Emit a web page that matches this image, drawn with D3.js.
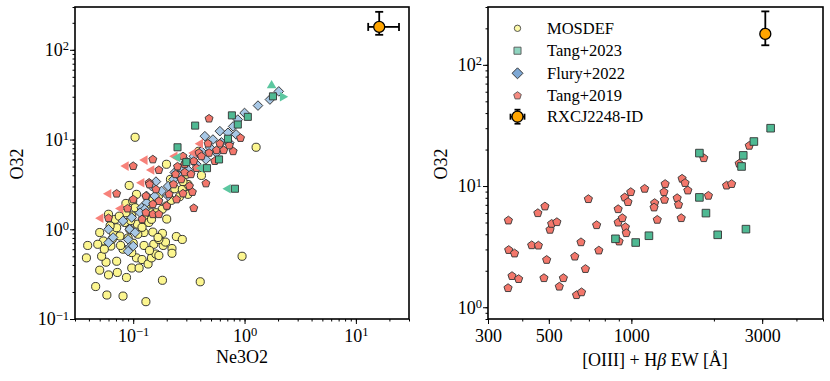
<!DOCTYPE html>
<html>
<head>
<meta charset="utf-8">
<script src="https://cdn.jsdelivr.net/npm/d3@7"></script>
<style>
  body { margin: 0; background: #fff; }
  svg text { font-family: "Liberation Serif", "DejaVu Serif", "Times New Roman", serif !important; fill: #000; }
</style>
</head>
<body>
<svg id="chart" width="830" height="381" font-family="Liberation Serif, DejaVu Serif, serif"></svg>
<script>
// ---- data: [Ne3O2, O32] ----
var mosdef = [[0.104,10.6],[1.27,8.2],[0.95,0.5],[0.40,0.26],[0.183,0.27],[0.13,0.156],[0.081,0.18],[0.058,0.185],
  [0.046,0.23],[0.038,0.48],[0.039,0.66],[0.087,0.29],[0.06,0.31],[0.072,0.33],[0.05,0.35],[0.057,0.43],[0.052,0.5],
  [0.071,0.44],[0.097,0.37],[0.113,0.37],[0.107,0.48],[0.12,0.46],[0.136,0.41],[0.146,0.48],[0.16,0.53],[0.17,0.51],
  [0.153,0.68],[0.186,0.66],[0.195,0.72],[0.183,0.9],[0.17,0.77],[0.223,0.61],[0.223,0.54],[0.244,0.83],[0.276,0.77],
  [0.125,0.66],[0.125,0.92],[0.097,0.55],[0.081,0.6],[0.077,0.66],[0.063,0.65],[0.054,0.74],[0.05,0.92],[0.048,0.68],
  [0.066,0.92],[0.071,1.04],[0.084,1.19],[0.076,0.84],[0.093,1.0],[0.109,1.14],[0.127,1.29],[0.146,1.53],[0.138,1.19],
  [0.15,0.93],[0.167,0.81],[0.06,1.47],[0.069,1.29],[0.062,1.09],[0.097,1.41],[0.086,1.53],[0.086,1.94],[0.092,3.08],
  [0.107,2.45],[0.099,2.06],[0.104,1.74],[0.119,1.67],[0.132,1.9],[0.15,2.19],[0.17,2.39],[0.199,1.82],[0.199,5.3],
  [0.216,3.6],[0.236,2.83],[0.276,2.78],[0.31,2.45],[0.31,3.16],[0.41,3.98],[0.387,7.4],[0.182,1.67],[0.16,1.53],
  [0.146,1.29],[0.055,0.6],[0.065,0.78],[0.09,0.8],[0.1,0.7],[0.14,0.58],[0.11,0.88],[0.075,1.4],[0.095,1.25],
  [0.12,1.05],[0.2,1.3],[0.22,2.1],[0.26,2.3],[0.28,3.4],[0.3,4.1]];

var flury = [[2.03,34.4],[1.69,27.9],[1.32,23.9],[1.0,19.8],[0.87,16.7],[0.79,14.0],[0.6,12.4],[0.71,11.9],[0.84,11.4],
  [0.44,10.9],[0.52,10],[0.62,9.3],[0.73,9.2],[0.49,8.1],[0.41,7.4],[0.35,6.5],[0.3,5.7],[0.27,4.8],[0.236,4.3],
  [0.16,3.4],[0.146,3.03],[0.206,3.03],[0.18,2.67],[0.132,2.35],[0.156,2.35],[0.206,2.35],[0.132,1.98],[0.119,1.74],
  [0.127,1.67],[0.115,1.53],[0.097,1.35],[0.081,1.24],[0.093,1.0],[0.104,0.92],[0.06,1.0],[0.066,0.81],[0.06,0.71],
  [0.09,0.77],[0.093,0.63],[0.1,0.65],[0.09,0.57],[0.23,3.6],[0.26,3.9],[0.31,4.6],[0.37,5.3],[0.45,6.0],[0.56,7.1]];

var tang19 = [[0.48,17.1],[0.92,10.4],[0.15,6.0],[0.1,5.06],[0.17,4.57],[0.139,3.3],[0.071,2.49],[0.089,1.7],[0.06,1.33],
  [0.35,1.72],[0.45,3.24],[0.28,6.5],[0.39,7.1],[0.47,9.0],[0.6,9.0],[0.56,7.6],[0.48,7.1],[0.41,6.5],[0.35,5.75],
  [0.29,5.3],[0.25,5.0],[0.24,4.1],[0.29,4.3],[0.33,4.1],[0.37,4.8],[0.54,5.75],[0.65,7.6],[0.79,7.4],[0.73,8.6],
  [0.23,3.16],[0.27,3.6],[0.32,3.03],[0.34,2.6],[0.28,2.5],[0.245,2.15],[0.2,1.82],[0.21,2.45],[0.17,2.06],[0.16,2.78],
  [0.14,3.16],[0.13,2.35],[0.15,1.9],[0.12,1.29],[0.15,1.47],[0.13,1.53],[0.1,2.15],[0.17,1.47]];
var tang19Limits = [[0.086,5.06],[0.127,5.9],[0.146,4.57],[0.119,3.3],[0.06,2.49],[0.077,1.7],[0.051,1.33],
  [0.236,6.5],[0.35,7.1],[0.4,9.0]];

var tang23 = [[1.8,30.3],[1.07,17.9],[0.77,18.6],[0.87,14.7],[0.71,10.2],[0.36,14.3],[0.25,8.2],[0.3,5.6],[0.46,4.8],
  [0.59,6.0],[0.82,2.83]];
var tang23Left = [[0.71,2.83],[0.25,6.3],[0.41,4.8]];
var tang23Up = [[1.75,40]];
var tang23Right = [[2.2,30]];

// ---- data: [EW (A), O32] ----
var tang19EW = [[356,5.2],[357,2.97],[375,2.78],[355,1.44],[367,1.81],[388,1.71],[433,3.25],[458,3.23],[456,5.98],
  [484,6.79],[491,2.46],[480,1.74],[505,4.36],[512,4.88],[535,5.04],[565,1.74],[546,1.48],[622,2.62],[631,1.26],
  [658,1.33],[680,2.07],[655,3.44],[697,7.81],[747,4.76],[761,2.94],[902,3.49],[895,6.45],[895,5.0],[927,5.44],
  [951,4.58],[958,4.09],[946,8.06],[972,7.38],[995,8.92],[1118,9.5],[1216,7.24],[1210,6.66],[1243,5.27],[1328,10.4],
  [1315,8.92],[1321,7.71],[1469,7.95],[1486,7.01],[1520,5.44],[1531,11.5],[1570,10.6],[1607,9.2],[1837,17.0],
  [1910,8.32],[2225,10.1],[2321,10.4],[2473,15.3],[2692,21.5]];
var tang23EW = [[3221,30],[2798,23.3],[2559,17.9],[2523,14.5],[1771,18.7],[1771,8.06],[1871,5.98],[2065,3.96],
  [2618,4.41],[1159,3.89],[1037,3.42],[875,3.67]];

// RXCJ2248-ID
var rxNe3O2 = {x: 16.2, xlo: 12.9, xhi: 24.4, y: 180, ylo: 147, yhi: 265};
var rxEW = {x: 3080, y: 180, ylo: 145, yhi: 276};

var legendNames = ["MOSDEF", "Tang+2023", "Flury+2022", "Tang+2019", "RXCJ2248-ID"];

var leftMajorX = [0.1, 1, 10], leftMajorY = [0.1, 1, 10, 100];
var rightMajorX = [300, 500, 1000, 3000], rightMajorY = [1, 10, 100];

// ---- colours ----
var cYellow = "#fcf68f", cTeal = "#4fb993", cBlue = "#a8c8e6", cRed = "#f3776b", cOrange = "#ffa500";
var FONT = "Liberation Serif, DejaVu Serif, serif";

var svg = d3.select("#chart");

function logMinors(lo, hi) {
  var out = [];
  for (var e = Math.floor(Math.log10(lo)); e <= Math.ceil(Math.log10(hi)); e++) {
    for (var k = 1; k < 10; k++) {
      var v = k * Math.pow(10, e);
      if (v >= lo * 0.999 && v <= hi * 1.001) out.push(v);
    }
  }
  return out;
}

function pentagon(r) {
  var p = [];
  for (var i = 0; i < 5; i++) {
    var a = -Math.PI / 2 + i * 2 * Math.PI / 5;
    p.push([r * Math.cos(a), r * Math.sin(a)]);
  }
  return "M" + p.join("L") + "Z";
}
var square = d3.symbol().type(d3.symbolSquare);
var tri = d3.symbol().type(d3.symbolTriangle).size(40);

function powLabel(sel, v) {
  var e = Math.round(Math.log10(v));
  sel.text("");
  sel.append("tspan").text("10");
  sel.append("tspan").attr("dy", "-0.45em").attr("font-size", "12.5px").text(e < 0 ? "\u2212" + (-e) : e);
}

function drawAxes(g, x, y, xMajor, yMajor, xFmt) {
  var xd = x.domain(), yd = y.domain(), r = y.range();
  g.append("g").attr("transform", "translate(0," + r[0] + ")")
    .call(d3.axisBottom(x).tickValues(logMinors(xd[0], xd[1])).tickSize(2.5).tickFormat(""));
  g.append("g").attr("transform", "translate(" + x.range()[0] + ",0)")
    .call(d3.axisLeft(y).tickValues(logMinors(yd[0], yd[1])).tickSize(2.5).tickFormat(""));
  var ax = g.append("g").attr("transform", "translate(0," + r[0] + ")")
    .call(d3.axisBottom(x).tickValues(xMajor).tickSize(5).tickPadding(5));
  ax.attr("font-family", FONT);
  ax.selectAll("text").attr("font-size", "18px")
    .attr("y", 23).attr("dy", 0).each(function (d) { xFmt(d3.select(this), d); });
  var ay = g.append("g").attr("transform", "translate(" + x.range()[0] + ",0)")
    .call(d3.axisLeft(y).tickValues(yMajor).tickSize(5));
  ay.attr("font-family", FONT);
  ay.selectAll("text").attr("font-size", "18px")
    .attr("x", -6).attr("dy", "0.32em").each(function (d) { powLabel(d3.select(this), d); });
  g.selectAll(".domain").remove();
  g.selectAll(".tick line").attr("stroke", "#000").attr("stroke-width", 1);
  g.append("rect").attr("x", x.range()[0]).attr("y", r[1])
    .attr("width", x.range()[1] - x.range()[0]).attr("height", r[0] - r[1])
    .attr("fill", "none").attr("stroke", "#000").attr("stroke-width", 1.6);
}

function points(g, data, x, y, path, fill, stroke, rot) {
  g.append("g").selectAll("path").data(data).enter().append("path")
    .attr("d", path)
    .attr("transform", function (d) { return "translate(" + x(d[0]) + "," + y(d[1]) + ")" + (rot ? " rotate(" + rot + ")" : ""); })
    .attr("fill", fill).attr("stroke", stroke || "none").attr("stroke-width", 0.9);
}
function arrows(g, data, x, y, rot, fill) {
  g.append("g").selectAll("path").data(data).enter().append("path")
    .attr("d", tri())
    .attr("transform", function (d) { return "translate(" + x(d[0]) + "," + y(d[1]) + ") rotate(" + rot + ")"; })
    .attr("fill", fill);
}
function errPoint(g, p, x, y, withX) {
  var e = g.append("g").attr("stroke", "#000").attr("stroke-width", 1.8);
  var cx = x(p.x), cy = y(p.y);
  e.append("line").attr("x1", cx).attr("x2", cx).attr("y1", y(p.ylo)).attr("y2", y(p.yhi));
  e.append("line").attr("x1", cx - 4).attr("x2", cx + 4).attr("y1", y(p.ylo)).attr("y2", y(p.ylo));
  e.append("line").attr("x1", cx - 4).attr("x2", cx + 4).attr("y1", y(p.yhi)).attr("y2", y(p.yhi));
  if (withX) {
    e.append("line").attr("y1", cy).attr("y2", cy).attr("x1", x(p.xlo)).attr("x2", x(p.xhi));
    e.append("line").attr("y1", cy - 4).attr("y2", cy + 4).attr("x1", x(p.xlo)).attr("x2", x(p.xlo));
    e.append("line").attr("y1", cy - 4).attr("y2", cy + 4).attr("x1", x(p.xhi)).attr("x2", x(p.xhi));
  }
  g.append("circle").attr("cx", cx).attr("cy", cy).attr("r", 5.5)
    .attr("fill", cOrange).attr("stroke", "#000").attr("stroke-width", 1.3);
}

// ================= left panel =================
var xL = d3.scaleLog().domain([0.03, 30]).range([75, 409]);
var yL = d3.scaleLog().domain([0.1, 300]).range([319, 7]);
var gL = svg.append("g");

points(gL, mosdef, xL, yL, d3.symbol().type(d3.symbolCircle).size(52)(), cYellow, "#222");
points(gL, flury, xL, yL, square.size(46)(), cBlue, "#333", 45);
arrows(gL, tang19Limits, xL, yL, -90, "#f7827a");
points(gL, tang19, xL, yL, pentagon(4.2), cRed, "#333");
arrows(gL, tang23Left, xL, yL, -90, "#5cc7a0");
arrows(gL, tang23Up, xL, yL, 0, "#5cc7a0");
arrows(gL, tang23Right, xL, yL, 90, "#5cc7a0");
points(gL, tang23, xL, yL, square.size(50)(), cTeal, "#333");
errPoint(gL, rxNe3O2, xL, yL, true);

drawAxes(gL, xL, yL, leftMajorX, leftMajorY, function (s, d) { powLabel(s, d); });
gL.append("text").attr("x", 242).attr("y", 363).attr("text-anchor", "middle").attr("font-size", "18px")
  .attr("font-family", FONT).text("Ne3O2");
gL.append("text").attr("transform", "translate(23,164) rotate(-90)").attr("text-anchor", "middle")
  .attr("font-size", "18px").attr("font-family", FONT).text("O32");

// ================= right panel =================
var xR = d3.scaleLog().domain([300, 5000]).range([488, 823]);
var yR = d3.scaleLog().domain([0.8, 300]).range([319, 7]);
var gR = svg.append("g");

points(gR, tang19EW, xR, yR, pentagon(4.3), cRed, "#333");
points(gR, tang23EW, xR, yR, square.size(58)(), cTeal, "#333");
errPoint(gR, rxEW, xR, yR, false);

drawAxes(gR, xR, yR, rightMajorX, rightMajorY, function (s, d) { s.text(d); });
var xlab = gR.append("text").attr("x", 655).attr("y", 366).attr("text-anchor", "middle")
  .attr("font-size", "18px").attr("font-family", FONT);
xlab.append("tspan").text("[OIII] + H");
xlab.append("tspan").attr("font-style", "italic").text("\u03b2");
xlab.append("tspan").text(" EW [\u00c5]");
gR.append("text").attr("transform", "translate(447,164) rotate(-90)").attr("text-anchor", "middle")
  .attr("font-size", "18px").attr("font-family", FONT).text("O32");

// legend
var lg = gR.append("g");
var rows = [28.3, 50.7, 73.3, 95.7, 116.7], mx = 517.5;
lg.append("circle").attr("cx", mx).attr("cy", rows[0]).attr("r", 3.2).attr("fill", "#fdfaa8").attr("stroke", "#444").attr("stroke-width", 0.9);
lg.append("path").attr("d", square.size(50)()).attr("transform", "translate(" + mx + "," + rows[1] + ")")
  .attr("fill", "#8fd4bf").attr("stroke", "#555").attr("stroke-width", 0.9);
lg.append("path").attr("d", square.size(60)()).attr("transform", "translate(" + mx + "," + rows[2] + ") rotate(45)")
  .attr("fill", "#7ea8d4").attr("stroke", "#333").attr("stroke-width", 0.9);
lg.append("path").attr("d", pentagon(4)).attr("transform", "translate(" + mx + "," + rows[3] + ")")
  .attr("fill", "#f58a80").attr("stroke", "#555").attr("stroke-width", 0.9);
var lr = lg.append("g").attr("stroke", "#000").attr("stroke-width", 1.8);
lr.append("line").attr("x1", mx).attr("x2", mx).attr("y1", rows[4] - 7).attr("y2", rows[4] + 7);
lr.append("line").attr("x1", mx - 7).attr("x2", mx + 7).attr("y1", rows[4]).attr("y2", rows[4]);
[-7, 7].forEach(function (o) {
  lr.append("line").attr("x1", mx - 3).attr("x2", mx + 3).attr("y1", rows[4] + o).attr("y2", rows[4] + o);
  lr.append("line").attr("y1", rows[4] - 3).attr("y2", rows[4] + 3).attr("x1", mx + o).attr("x2", mx + o);
});
lg.append("circle").attr("cx", mx).attr("cy", rows[4]).attr("r", 5.5).attr("fill", cOrange).attr("stroke", "#000").attr("stroke-width", 1.3);
lg.selectAll("text.lab").data(legendNames).enter().append("text").attr("class", "lab")
  .attr("x", 547).attr("y", function (d, i) { return rows[i] + 5.5; })
  .attr("font-size", "16.5px").attr("font-family", FONT).text(function (d) { return d; });
</script>
</body>
</html>
